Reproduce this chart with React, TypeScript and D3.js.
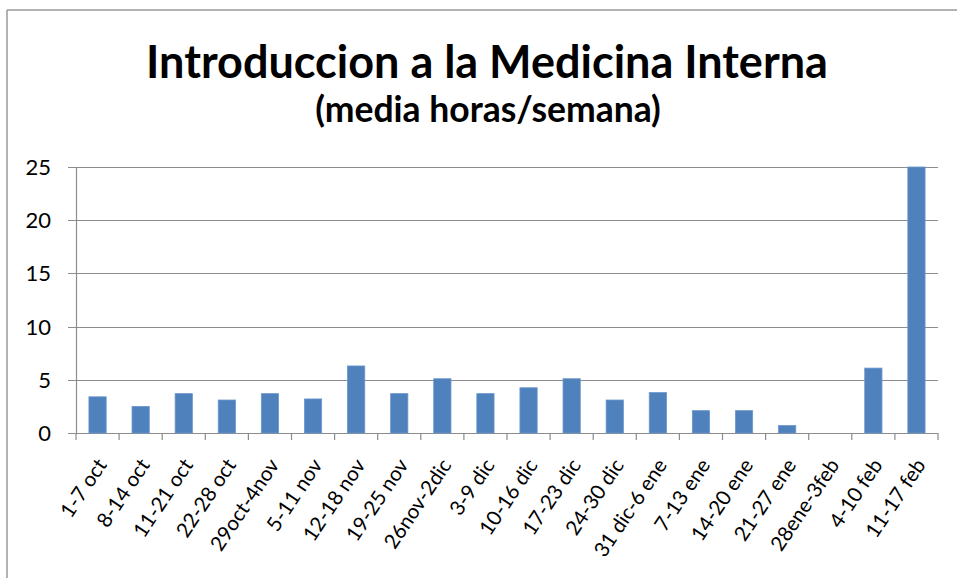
import React from "react";
import * as d3 from "d3";

const categories = [
  "1-7 oct", "8-14 oct", "11-21 oct", "22-28 oct", "29oct-4nov", "5-11 nov",
  "12-18 nov", "19-25 nov", "26nov-2dic", "3-9 dic", "10-16 dic", "17-23 dic",
  "24-30 dic", "31 dic-6 ene", "7-13 ene", "14-20 ene", "21-27 ene",
  "28ene-3feb", "4-10 feb", "11-17 feb",
];
const values = [3.4, 2.5, 3.7, 3.1, 3.7, 3.2, 6.3, 3.7, 5.1, 3.7, 4.25, 5.1, 3.1, 3.8, 2.1, 2.1, 0.7, 0, 6.1, 25];
const yTicks = [0, 5, 10, 15, 20, 25];
const title = "Introduccion a la Medicina Interna";
const subtitle = "(media horas/semana)";

const W = 957, H = 578;
const plot = { left: 76, right: 938, top: 167, bottom: 433 };
const FONT = "Lato, 'Open Sans', sans-serif";
const GRID = "#8c8c8c";

export default function App() {
  const x = d3.scaleBand<string>().domain(categories).range([plot.left, plot.right]).paddingInner(0).paddingOuter(0);
  const y = d3.scaleLinear().domain([0, 25]).range([plot.bottom, plot.top]);
  const bw = x.bandwidth() * 0.4;
  const boundaries = d3.range(categories.length + 1).map((i) => plot.left + i * x.step());

  return (
    <div style={{ position: "absolute", left: 0, top: 0, width: W, height: H, background: "#fff" }}>
      <svg width={W} height={H} style={{ display: "block" }}>
        <rect x={0} y={0} width={W} height={H} fill="#fff" />
        {/* chart frame */}
        <line x1={7} y1={10} x2={W} y2={10} stroke="#999" strokeWidth={1.5} />
        <line x1={7} y1={10} x2={7} y2={H} stroke="#999" strokeWidth={1.5} />

        <text x={487} y={78} textAnchor="middle" fontFamily={FONT} fontWeight={700} fontSize={45} fill="#000">
          {title}
        </text>
        <text x={488} y={122} textAnchor="middle" fontFamily={FONT} fontWeight={700} fontSize={35.5} fill="#000">
          {subtitle}
        </text>

        {/* gridlines + y ticks */}
        {yTicks.map((t) => (
          <g key={t}>
            <line x1={plot.left - 8} x2={plot.right} y1={Math.round(y(t)) + 0.5} y2={Math.round(y(t)) + 0.5} stroke={GRID} strokeWidth={1.2} />
            <text x={51} y={y(t)} dy="0.36em" textAnchor="end" fontFamily={FONT} fontSize={22} fill="#000">
              {t}
            </text>
          </g>
        ))}
        {/* y axis */}
        <line x1={plot.left + 0.5} x2={plot.left + 0.5} y1={plot.top} y2={plot.bottom} stroke={GRID} strokeWidth={1.2} />
        {/* x ticks */}
        {boundaries.map((b, i) => (
          <line key={i} x1={b} x2={b} y1={plot.bottom} y2={plot.bottom + 7} stroke={GRID} strokeWidth={1.2} />
        ))}

        {/* bars */}
        {categories.map((c, i) => {
          const cx = (x(c) as number) + x.bandwidth() / 2;
          const v = values[i];
          if (v <= 0) return null;
          return (
            <rect key={c} x={cx - bw / 2} y={y(v)} width={bw} height={y(0) - y(v)} fill="#4F81BD" stroke="#6a96cc" strokeWidth={0.8} />
          );
        })}

        {/* x labels */}
        {categories.map((c) => {
          const cx = (x(c) as number) + x.bandwidth() / 2;
          const tx = cx + 10, ty = 465;
          return (
            <text key={c} x={tx} y={ty} transform={`rotate(-56 ${tx} ${ty})`} textAnchor="end" fontFamily={FONT} fontSize={20.5} fill="#000">
              {c}
            </text>
          );
        })}
      </svg>
    </div>
  );
}
